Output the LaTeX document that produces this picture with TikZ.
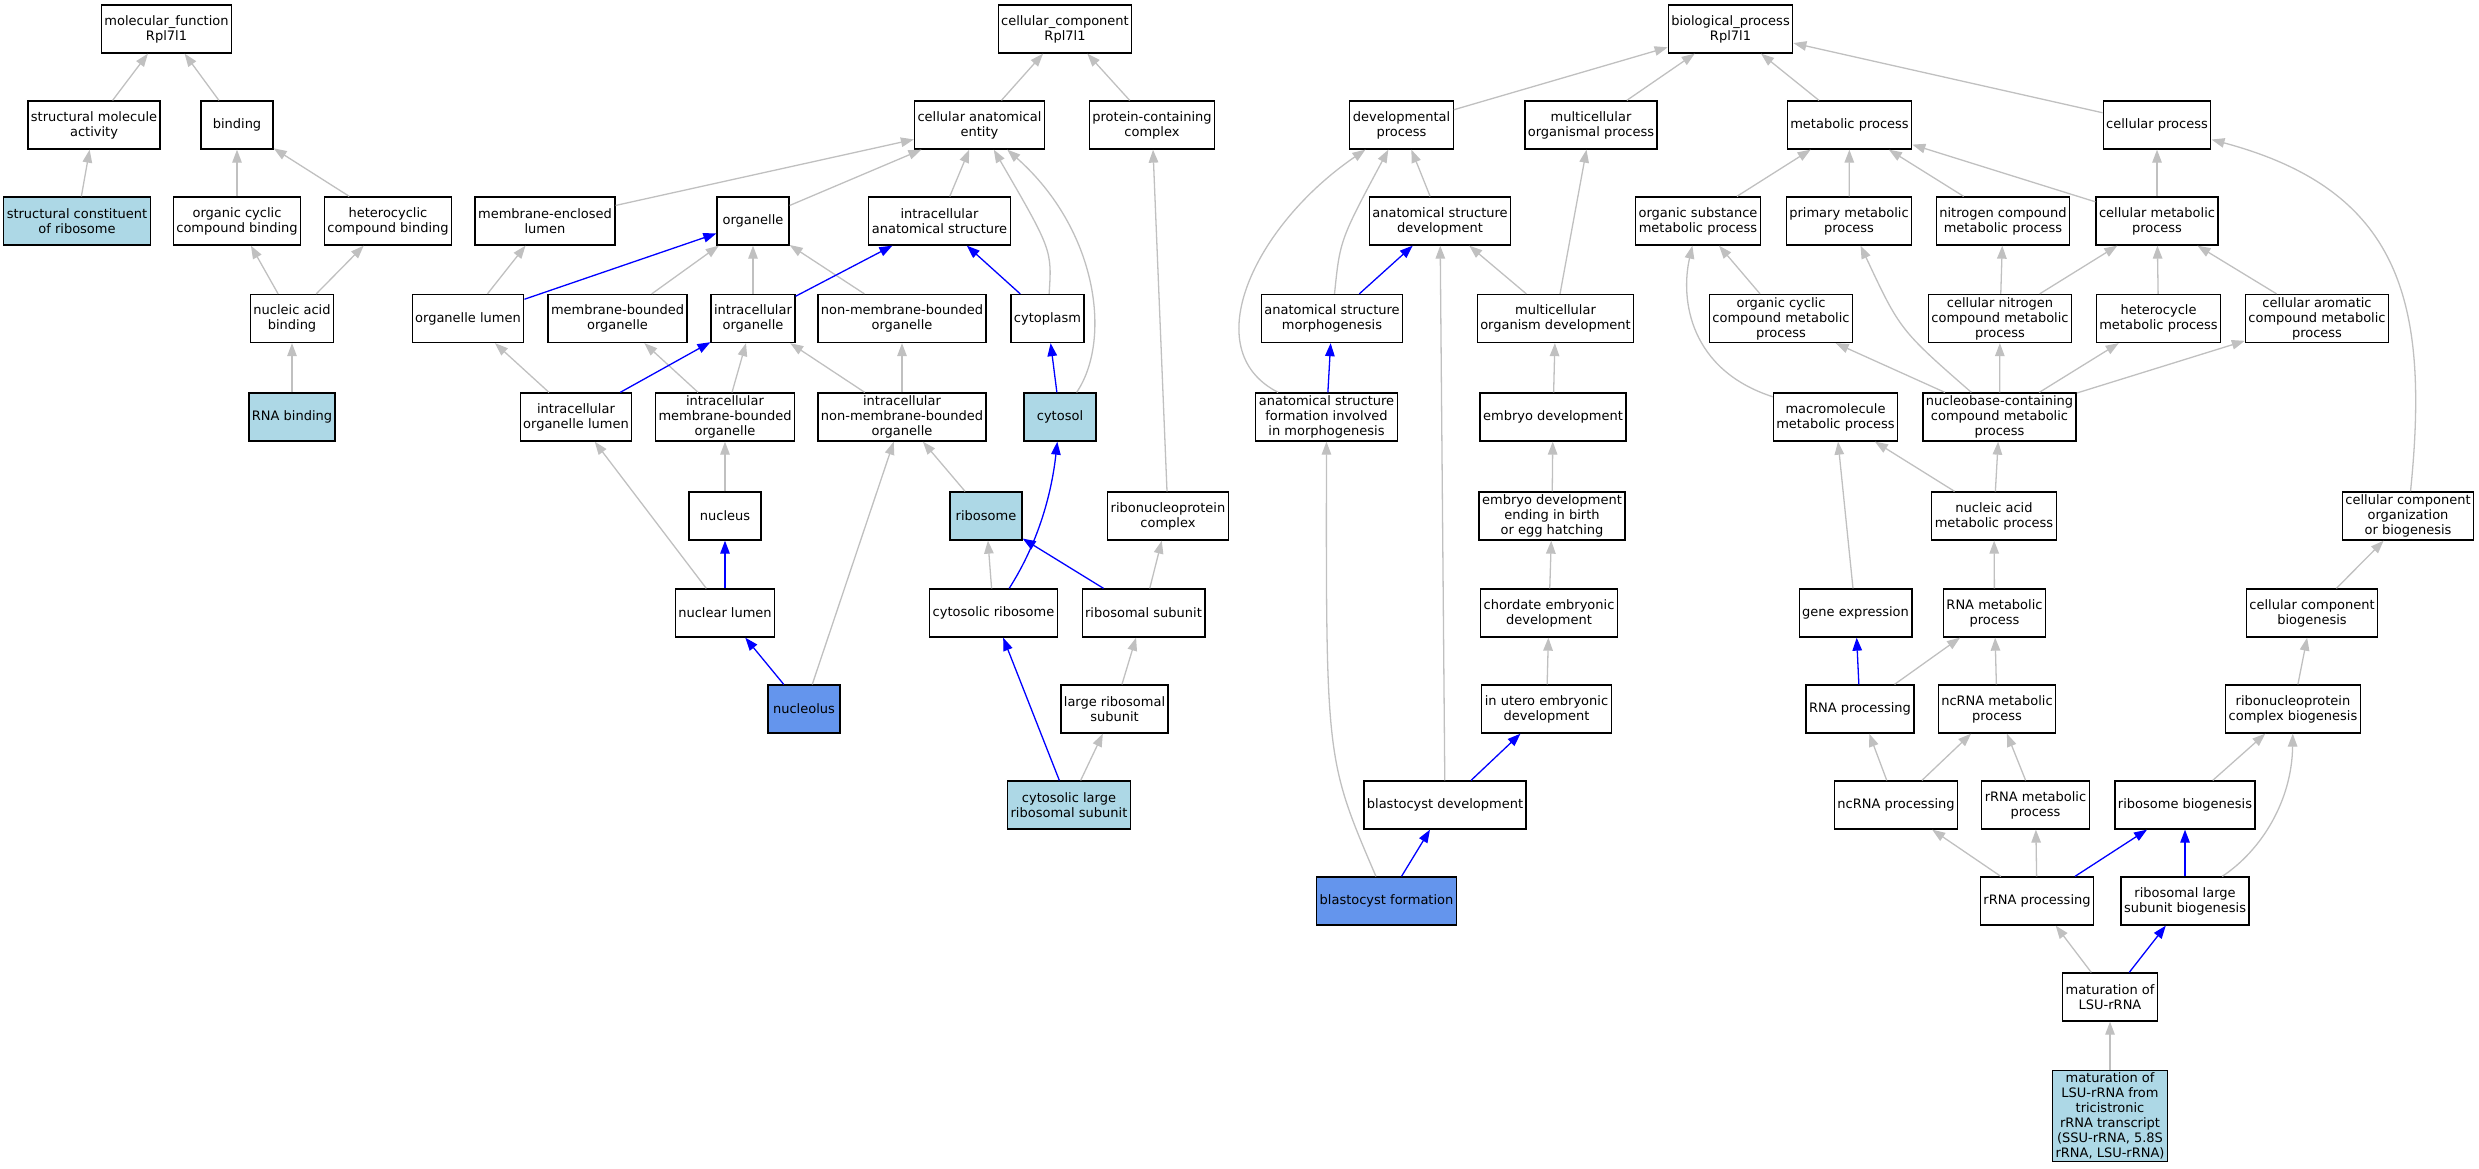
\documentclass[tikz,border=0pt]{standalone}
\usepackage{fontspec}
\setmainfont{DejaVu Sans}
\usetikzlibrary{arrows.meta}
\definecolor{hitblue}{HTML}{ADD8E6}
\definecolor{focusblue}{HTML}{6495ED}
\definecolor{isagrey}{HTML}{C0C0C0}

\begin{document}
\begin{tikzpicture}[x = 1pt, y = -1pt,
		term/.style = {draw, line width = 1.3pt, align = center, minimum width = 72pt, minimum height = 48pt, inner xsep = 3pt, inner ysep = 2pt, font = \fontsize{13}{15}\selectfont},
		hit/.style = {term, fill = hitblue},
		focus/.style = {term, fill = focusblue},
		isa/.style = {draw = isagrey, line width = 1.3pt, -{Triangle[length = 13pt, width = 9.5pt]}},
		trail/.style = {draw = blue, line width = 1.3pt, -{Triangle[length = 13pt, width = 9.5pt]}}]
	\useasboundingbox (0,0) rectangle (2479,1168);
	\begin{scope}
		\node [term] (mf) at (166.5,29) {molecular\_function\\Rpl7l1};
		\node [term] (sma) at (94,125) {structural molecule\\activity};
		\node [term] (bind) at (237,125) {binding};
		\node [hit] (scr) at (77,221) {structural constituent\\of ribosome};
		\node [term] (occb) at (237,221) {organic cyclic\\compound binding};
		\node [term] (hcb) at (388,221) {heterocyclic\\compound binding};
		\node [term] (nab) at (292,318.5) {nucleic acid\\binding};
		\node [hit] (rnab) at (292,417) {RNA binding};
	\end{scope}
	\begin{scope}
		\node [term] (cc) at (1065,29) {cellular\_component\\Rpl7l1};
		\node [term] (cae) at (979.5,125) {cellular anatomical\\entity};
		\node [term] (pcc) at (1152,125) {protein-containing\\complex};
		\node [term] (mel) at (545,221) {membrane-enclosed\\lumen};
		\node [term] (org) at (753,221) {organelle};
		\node [term] (ias) at (939.5,221) {intracellular\\anatomical structure};
		\node [term] (ol) at (468,318.5) {organelle lumen};
		\node [term] (mbo) at (617.5,318.5) {membrane-bounded\\organelle};
		\node [term] (io) at (753,318.5) {intracellular\\organelle};
		\node [term] (nmbo) at (902,318.5) {non-membrane-bounded\\organelle};
		\node [term] (cyt) at (1047.5,318.5) {cytoplasm};
		\node [term] (iol) at (576,417) {intracellular\\organelle lumen};
		\node [term] (imbo) at (725,417) {intracellular\\membrane-bounded\\organelle};
		\node [term] (inmbo) at (902,417) {intracellular\\non-membrane-bounded\\organelle};
		\node [hit] (cysol) at (1060,417) {cytosol};
		\node [term] (nuc) at (725,516) {nucleus};
		\node [hit] (ribo) at (986,516) {ribosome};
		\node [term] (rnp) at (1168,516) {ribonucleoprotein\\complex};
		\node [term] (nl) at (725,613) {nuclear lumen};
		\node [term] (cribo) at (993.5,613) {cytosolic ribosome};
		\node [term] (rsu) at (1143.5,613) {ribosomal subunit};
		\node [focus] (nucl) at (804,709) {nucleolus};
		\node [term] (lrsu) at (1114.5,709) {large ribosomal\\subunit};
		\node [hit] (clrsu) at (1069,805) {cytosolic large\\ribosomal subunit};
	\end{scope}
	\begin{scope}
		\node [term] (bp) at (1730.5,29) {biological\_process\\Rpl7l1};
		\node [term] (dp) at (1401.5,125) {developmental\\process};
		\node [term] (mop) at (1591,125) {multicellular\\organismal process};
		\node [term] (mp) at (1849.5,125) {metabolic process};
		\node [term] (cp) at (2157,125) {cellular process};
		\node [term] (asd) at (1440,221) {anatomical structure\\development};
		\node [term] (osmp) at (1698,221) {organic substance\\metabolic process};
		\node [term] (pmp) at (1849,221) {primary metabolic\\process};
		\node [term] (ncmp) at (2003,221) {nitrogen compound\\metabolic process};
		\node [term] (cmp) at (2157,221) {cellular metabolic\\process};
		\node [term] (asm) at (1332,318.5) {anatomical structure\\morphogenesis};
		\node [term] (mod) at (1555.5,318.5) {multicellular\\organism development};
		\node [term] (occmp) at (1781,318.5) {organic cyclic\\compound metabolic\\process};
		\node [term] (cncmp) at (2000,318.5) {cellular nitrogen\\compound metabolic\\process};
		\node [term] (hmp) at (2158.5,318.5) {heterocycle\\metabolic process};
		\node [term] (cacmp) at (2317,318.5) {cellular aromatic\\compound metabolic\\process};
		\node [term] (asf) at (1326.5,417) {anatomical structure\\formation involved\\in morphogenesis};
		\node [term] (ed) at (1553,417) {embryo development};
		\node [term] (mmp) at (1835.5,417) {macromolecule\\metabolic process};
		\node [term] (nbcmp) at (1999.5,417) {nucleobase-containing\\compound metabolic\\process};
		\node [term] (edb) at (1552,516) {embryo development\\ending in birth\\or egg hatching};
		\node [term] (namp) at (1994,516) {nucleic acid\\metabolic process};
		\node [term] (ccob) at (2408,516) {cellular component\\organization\\or biogenesis};
		\node [term] (ced) at (1549,613) {chordate embryonic\\development};
		\node [term] (gex) at (1855.5,613) {gene expression};
		\node [term] (rmp) at (1994.5,613) {RNA metabolic\\process};
		\node [term] (ccb) at (2312,613) {cellular component\\biogenesis};
		\node [term] (ued) at (1546.5,709) {in utero embryonic\\development};
		\node [term] (rproc) at (1860,709) {RNA processing};
		\node [term] (ncmet) at (1997,709) {ncRNA metabolic\\process};
		\node [term] (rnpb) at (2293,709) {ribonucleoprotein\\complex biogenesis};
		\node [term] (bd) at (1445,805) {blastocyst development};
		\node [term] (ncproc) at (1896,805) {ncRNA processing};
		\node [term] (rrmp) at (2035.5,805) {rRNA metabolic\\process};
		\node [term] (rbg) at (2185,805) {ribosome biogenesis};
		\node [focus] (bf) at (1386.5,901) {blastocyst formation};
		\node [term] (rrproc) at (2037,901) {rRNA processing};
		\node [term] (rlsb) at (2185,901) {ribosomal large\\subunit biogenesis};
		\node [term] (mlsu) at (2110,997) {maturation of\\LSU-rRNA};
		\node [hit] (mlsut) at (2110,1116) {maturation of\\LSU-rRNA from\\tricistronic\\rRNA transcript\\(SSU-rRNA, 5.8S\\rRNA, LSU-rRNA)};
	\end{scope}
	\begin{scope}[isa]
		\draw (sma) -- (mf);
		\draw (bind) -- (mf);
		\draw (scr) -- (sma);
		\draw (occb) -- (bind);
		\draw (hcb) -- (bind);
		\draw (nab) -- (occb);
		\draw (nab) -- (hcb);
		\draw (rnab) -- (nab);

		\draw (cae) -- (cc);
		\draw (pcc) -- (cc);
		\draw (mel) -- (cae);
		\draw (org) -- (cae);
		\draw (ias) -- (cae);
		\draw (cyt) .. controls (1052,250) .. (cae);
		\draw (cysol) .. controls (1112,340) and (1098,230) .. (cae);
		\draw (ol) -- (mel);
		\draw (mbo) -- (org);
		\draw (io) -- (org);
		\draw (nmbo) -- (org);
		\draw (iol) -- (ol);
		\draw (imbo) -- (mbo);
		\draw (imbo) -- (io);
		\draw (inmbo) -- (io);
		\draw (inmbo) -- (nmbo);
		\draw (nuc) -- (imbo);
		\draw (nl) -- (iol);
		\draw (nucl) -- (inmbo);
		\draw (ribo) -- (inmbo);
		\draw (rnp) -- (pcc);
		\draw (cribo) -- (ribo);
		\draw (rsu) -- (rnp);
		\draw (lrsu) -- (rsu);
		\draw (clrsu) -- (lrsu);

		\draw (dp) -- (bp);
		\draw (mop) -- (bp);
		\draw (mp) -- (bp);
		\draw (cp) -- (bp);
		\draw (asd) -- (dp);
		\draw (asm) .. controls (1340,240) .. (dp);
		\draw (asf) .. controls (1195,350) and (1255,225) .. (dp);
		\draw (mod) -- (asd);
		\draw (mod) -- (mop);
		\draw (ed) -- (mod);
		\draw (edb) -- (ed);
		\draw (ced) -- (edb);
		\draw (ued) -- (ced);
		\draw (bd) -- (asd);
		\draw (bf) .. controls (1326,760) .. (asf);
		\draw (osmp) -- (mp);
		\draw (pmp) -- (mp);
		\draw (ncmp) -- (mp);
		\draw (cmp) -- (mp);
		\draw (cmp) -- (cp);
		\draw (occmp) -- (osmp);
		\draw (cncmp) -- (ncmp);
		\draw (cncmp) -- (cmp);
		\draw (hmp) -- (cmp);
		\draw (cacmp) -- (cmp);
		\draw (mmp) .. controls (1690,370) and (1680,300) .. (osmp);
		\draw (nbcmp) -- (occmp);
		\draw (nbcmp) .. controls (1900,330) .. (pmp);
		\draw (nbcmp) -- (cncmp);
		\draw (nbcmp) -- (hmp);
		\draw (nbcmp) -- (cacmp);
		\draw (namp) -- (mmp);
		\draw (namp) -- (nbcmp);
		\draw (gex) -- (mmp);
		\draw (rmp) -- (namp);
		\draw (rproc) -- (rmp);
		\draw (ncmet) -- (rmp);
		\draw (ncproc) -- (rproc);
		\draw (ncproc) -- (ncmet);
		\draw (rrmp) -- (ncmet);
		\draw (rrproc) -- (ncproc);
		\draw (rrproc) -- (rrmp);
		\draw (rbg) -- (rnpb);
		\draw (rlsb) .. controls (2262,850) and (2292,800) .. (rnpb);
		\draw (rnpb) -- (ccb);
		\draw (ccb) -- (ccob);
		\draw (ccob) .. controls (2430,300) and (2400,190) .. (cp);
		\draw (mlsu) -- (rrproc);
		\draw (mlsut) -- (mlsu);
	\end{scope}
	\begin{scope}[trail]
		\draw (ol) -- (org);
		\draw (io) -- (ias);
		\draw (cyt) -- (ias);
		\draw (cysol) -- (cyt);
		\draw (iol) -- (io);
		\draw (nl) -- (nuc);
		\draw (nucl) -- (nl);
		\draw (cribo) .. controls (1040,540) and (1052,490) .. (cysol);
		\draw (rsu) -- (ribo);
		\draw (clrsu) -- (cribo);
		\draw (asm) -- (asd);
		\draw (asf) -- (asm);
		\draw (bd) -- (ued);
		\draw (bf) -- (bd);
		\draw (rproc) -- (gex);
		\draw (rrproc) -- (rbg);
		\draw (rlsb) -- (rbg);
		\draw (mlsu) -- (rlsb);
	\end{scope}
\end{tikzpicture}
\end{document}
